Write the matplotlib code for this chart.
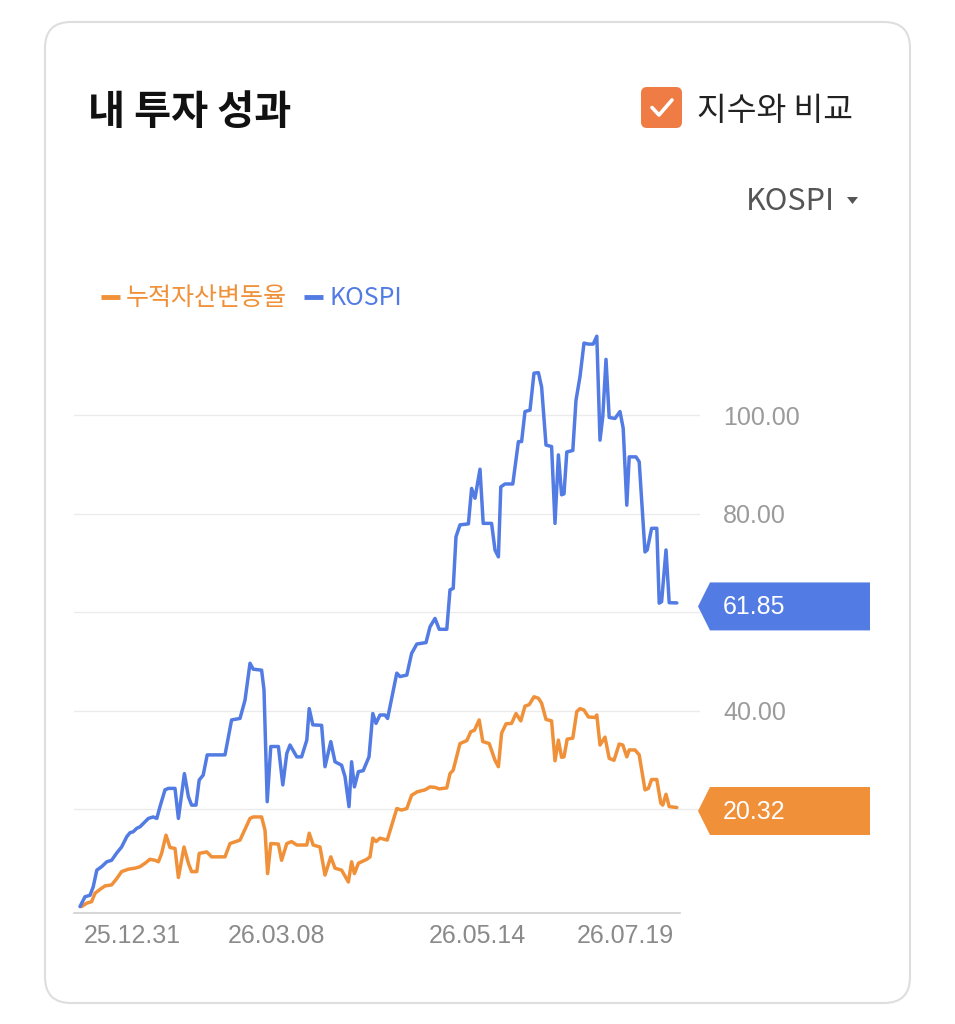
import matplotlib
matplotlib.use('Agg')
import matplotlib.pyplot as plt
from matplotlib.patches import FancyBboxPatch, Polygon

W, H, DPI = 955, 1024, 100

# ---- data (trading-day index, % change) ----
day_kospi = [0, 1.25, 2.5, 3.3, 4.2, 5.4, 6.7, 7.9, 9.2, 10.4, 11.7, 12.5, 13.3, 14.2, 15,
             16.25, 17.1, 18.3, 19.2, 20, 21.25, 22.1, 23.75, 24.6, 26.1, 27.1, 27.9, 29,
             29.8, 30.8, 31.8, 36.25, 37.9, 40, 41.25, 42.5, 43.3, 45.4, 46, 46.8, 47.7,
             49.6, 50.7, 51.7, 52.5, 54.2, 55.4, 56.7, 57.3, 58.2, 60.4, 61.25, 62.7,
             63.75, 65.4, 66.25, 67.25, 67.9, 68.6, 69.6, 70.8, 72.25, 73.2, 74, 75,
             76.25, 76.9, 79.2, 80, 81.7, 82.9, 84.2, 86.5, 87.5, 88.75, 89.8, 91.7, 92.5,
             93.3, 94, 95, 97.1, 97.9, 98.75, 100, 100.8, 102.9, 103.75, 104.6, 105.2,
             106.25, 108.2, 109.6, 110.4, 111.25, 112.5, 113.5, 114.6, 115.4, 116.5,
             117.9, 118.75, 119.6, 120.4, 121, 121.7, 123.2, 124, 125, 126, 127.1, 128.3,
             129.2, 130, 130.7, 131.5, 132.3, 133.75, 135, 135.8, 136.7, 137.3, 139,
             139.8, 141.25, 141.8, 142.9, 144.2, 144.8, 145.4, 146.5, 147.3, 149.2]
kospi = [0.2, 2.2, 2.5, 4.2, 7.6, 8.3, 9.3, 9.6, 11.1, 12.3, 14.4, 15.2, 15.4, 16.1, 16.4,
         17.4, 18.1, 18.4, 18.1, 20.5, 23.9, 24.2, 24.2, 18.1, 27.2, 22.5, 20.8, 20.8,
         25.9, 26.9, 31.0, 31.0, 38.1, 38.4, 42.1, 49.6, 48.4, 48.2, 44.2, 21.5, 32.7,
         32.7, 24.9, 31.3, 33.0, 30.6, 30.6, 34.0, 40.4, 37.1, 37.0, 28.6, 33.7, 29.6,
         28.9, 26.6, 20.5, 29.6, 24.5, 27.6, 27.8, 30.6, 39.4, 37.4, 39.1, 39.1, 38.4,
         47.6, 46.9, 47.2, 51.6, 53.5, 53.8, 57.0, 58.7, 56.5, 56.5, 64.5, 64.8, 75.3,
         77.7, 77.9, 85.1, 83.1, 89.0, 78.0, 78.0, 72.6, 71.2, 85.4, 86.0, 86.0, 94.6,
         94.6, 100.7, 101.0, 108.5, 108.6, 105.7, 93.9, 93.6, 78.0, 91.9, 83.8, 84.0,
         92.5, 92.8, 103.0, 107.8, 114.6, 114.4, 114.4, 116.0, 94.9, 99.7, 111.3, 99.5,
         99.3, 100.7, 97.3, 81.7, 91.5, 91.5, 90.5, 72.2, 72.6, 77.0, 77.0, 61.8, 62.1,
         72.6, 61.9, 61.85]

day_asset = [0.4, 1.7, 2.9, 3.75, 5, 6.25, 7.9, 9.2, 10.4, 12.1, 13.75, 15, 16.25, 17.5,
             18.75, 19.6, 20.4, 21.5, 22.5, 23.75, 24.6, 26, 27.1, 27.9, 29.2, 29.8, 31.7,
             32.9, 36.25, 37.5, 40, 42.5, 43.3, 45.4, 46.25, 46.9, 47.7, 49.6, 50.4, 51.7,
             52.9, 54.2, 56.7, 57.3, 58.3, 60, 61.25, 62.7, 63.75, 65.4, 67.1, 67.9, 68.6,
             69.6, 71.7, 72.5, 73.2, 74, 75, 76.8, 79.2, 80.4, 81.7, 82.9, 84.3, 86.25,
             87.5, 88.75, 89.8, 91.7, 92.5, 93.3, 95, 96.7, 97.7, 98.6, 99.8, 100.7, 102.3,
             103.75, 104.6, 105.4, 106.5, 107.9, 109, 110.2, 111.25, 112.3, 113.5, 114.6,
             115.4, 116.5, 117.9, 118.75, 119.6, 120.4, 121, 121.8, 123.2, 124.2, 125, 126,
             127.1, 128.75, 129.2, 130, 131.25, 132.3, 133.5, 134.8, 135.7, 136.7, 137.3,
             138.75, 139.8, 141.25, 142.1, 142.9, 144.2, 145.2, 145.7, 146.5, 147.3, 149.2]
asset = [0.2, 0.9, 1.2, 2.9, 3.7, 4.4, 4.6, 5.9, 7.3, 7.8, 8.0, 8.3, 9.0, 9.8, 9.6, 9.3,
         11.0, 14.7, 12.2, 12.0, 6.1, 12.3, 9.0, 7.3, 7.3, 11.0, 11.3, 10.3, 10.3, 13.0,
         13.7, 18.1, 18.4, 18.4, 15.7, 6.9, 13.0, 12.9, 9.6, 13.0, 13.4, 12.7, 12.7, 15.1,
         12.7, 12.3, 6.6, 10.3, 8.0, 7.6, 5.2, 9.3, 6.9, 9.0, 9.8, 10.3, 14.1, 13.4, 14.1,
         13.7, 20.1, 19.8, 20.1, 22.8, 23.5, 23.9, 24.5, 24.4, 24.1, 24.3, 27.2, 27.9, 33.3,
         33.9, 35.7, 36.0, 38.1, 33.7, 33.3, 29.9, 28.6, 35.4, 37.3, 37.4, 39.4, 37.9, 40.9,
         41.2, 42.8, 42.5, 41.5, 38.2, 37.9, 29.8, 34.0, 30.5, 30.6, 34.2, 34.4, 39.8, 40.4,
         40.1, 38.7, 38.6, 39.1, 33.0, 34.6, 30.3, 29.9, 33.2, 33.0, 30.6, 32.0, 32.0, 31.0,
         23.9, 24.2, 26.0, 26.0, 21.2, 20.8, 23.0, 20.5, 20.32]

tick_days = [13, 49, 99.25, 136.25]
tick_labels = ['25.12.31', '26.03.08', '26.05.14', '26.07.19']
y_ticks = [20, 40, 60, 80, 100]
y_labeled = [40, 80, 100]          # 20 and 60 sit under the value tags
series_names = ['누적자산변동율', 'KOSPI']
last_asset = 20.32
last_kospi = 61.85

BLUE = '#527ce3'
ORANGE = '#f0913a'
KR = ['Noto Sans CJK KR', 'DejaVu Sans']
NUM = ['Liberation Sans', 'DejaVu Sans']

fig = plt.figure(figsize=(W / DPI, H / DPI), dpi=DPI)
fig.patch.set_facecolor('white')


def px_rect(l, t, r, b):
    return [l / W, 1 - b / H, (r - l) / W, (b - t) / H]


ax = fig.add_axes(px_rect(74, 326.35, 700, 913))
ax.set_xlim(-1.5, 155)
ax.set_ylim(-1.1, 118)
ax.plot(day_asset, asset, color=ORANGE, lw=2.5, zorder=3,
        solid_joinstyle='round', solid_capstyle='round')
ax.plot(day_kospi, kospi, color=BLUE, lw=2.5, zorder=4,
        solid_joinstyle='round', solid_capstyle='round')

ax.set_yticks(y_ticks)
ax.set_yticklabels([f'{v:.2f}' if v in y_labeled else '' for v in y_ticks])
ax.yaxis.tick_right()
ax.grid(axis='y', color='#ebebeb', lw=1.0, zorder=0)
ax.set_xticks(tick_days)
ax.set_xticklabels(tick_labels)
ax.tick_params(axis='y', length=0, pad=16.5, labelsize=18, labelcolor='#9b9b9b')
ax.tick_params(axis='x', length=0, pad=8, labelsize=18, labelcolor='#8a8a8a')
for lab in ax.get_xticklabels() + ax.get_yticklabels():
    lab.set_family(NUM)
for s in ['top', 'left', 'right']:
    ax.spines[s].set_visible(False)
ax.spines['bottom'].set_color('#d0d0d0')
ax.spines['bottom'].set_linewidth(1.2)
ax.spines['bottom'].set_bounds(-1.5, 150)

# ---- overlay in pixel coordinates ----
ov = fig.add_axes([0, 0, 1, 1], zorder=10)
ov.set_xlim(0, W)
ov.set_ylim(H, 0)
ov.set_axis_off()

card = FancyBboxPatch((45, 22), 865, 981, boxstyle='round,pad=0,rounding_size=26',
                      fc='none', ec='#dedede', lw=1.5)
ov.add_patch(card)

ov.text(88, 113, '내 투자 성과', fontsize=29, fontweight='bold', family=KR,
        va='center', ha='left', color='#111111')

box = FancyBboxPatch((641, 87), 41, 41, boxstyle='round,pad=0,rounding_size=6',
                     fc='#ef7c45', ec='none')
ov.add_patch(box)
ov.plot([652, 659, 672], [107.5, 115, 100], color='white', lw=2.6,
        solid_capstyle='round', solid_joinstyle='round')
ov.text(697, 111, '지수와 비교', fontsize=23.3, family=KR, va='center', ha='left',
        color='#222222')

ov.text(835, 201, 'KOSPI', fontsize=22, family=KR, va='center', ha='right',
        color='#555555')
ov.add_patch(Polygon([(847, 197), (858, 197), (852.5, 204)], closed=True,
                     fc='#555555', ec='none'))

# legend
ov.plot([101, 120], [297, 297], color=ORANGE, lw=3.5, solid_capstyle='butt')
ov.text(126, 298, series_names[0], fontsize=18, family=KR, va='center', ha='left',
        color=ORANGE)
ov.plot([304, 323], [297, 297], color=BLUE, lw=3.5, solid_capstyle='butt')
ov.text(329, 298, series_names[1], fontsize=18, family=KR, va='center', ha='left',
        color=BLUE)

# value tags at the last points
for val, col in [(last_kospi, BLUE), (last_asset, ORANGE)]:
    yc = H - ax.transData.transform((0, val))[1] + 3.5
    ov.add_patch(Polygon([(698, yc), (710, yc - 24), (870, yc - 24), (870, yc + 24),
                          (710, yc + 24)], closed=True, fc=col, ec='none'))
    ov.text(723, yc + 1, f'{val:.2f}', fontsize=18, family=NUM, va='center', ha='left',
            color='white')

fig.savefig('out.png', dpi=DPI, facecolor='white')
